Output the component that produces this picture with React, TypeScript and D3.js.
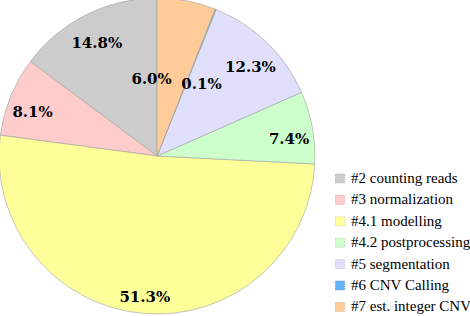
import { useEffect, useRef } from 'react'
import * as d3 from 'd3'

const LABELS = [
  '#2 counting reads',
  '#3 normalization',
  '#4.1 modelling',
  '#4.2 postprocessing',
  '#5 segmentation',
  '#6 CNV Calling',
  '#7 est. integer CNV',
]
const VALUES = [14.8, 8.1, 51.3, 7.4, 12.3, 0.1, 6.0]
const COLORS = ['#cccccc', '#ffcccc', '#ffff99', '#ccffcc', '#e0e0fc', '#66b3ff', '#ffcc99']

export default function App() {
  const svgRef = useRef<SVGSVGElement>(null)

  useEffect(() => {
    if (!svgRef.current) return
    const svg = d3.select(svgRef.current)
    svg.selectAll('*').remove()

    const width = 470
    const height = 316
    const cx = 157
    const cy = 156
    const R = 158

    svg.attr('width', width).attr('height', height)
    const g = svg.append('g').attr('transform', `translate(${cx},${cy})`)

    const data = LABELS.map((l, i) => ({ label: l, value: VALUES[i], color: COLORS[i] }))

    // counter-clockwise from 12 o'clock
    const pie = d3.pie<typeof data[number]>()
      .value(d => d.value)
      .sort(null)
      .startAngle(0)
      .endAngle(-2 * Math.PI)

    const arcs = pie(data)
    const arc = d3.arc<d3.PieArcDatum<typeof data[number]>>().innerRadius(0).outerRadius(R)

    g.selectAll('path.slice')
      .data(arcs)
      .join('path')
      .attr('class', 'slice')
      .attr('d', arc)
      .attr('fill', d => d.data.color)
      .attr('stroke', '#a0a0a0')
      .attr('stroke-width', 0.6)

    // labels: big slices near the rim (hanging from the point), small ones pulled in and pushed apart
    const outerLab = d3.arc<d3.PieArcDatum<typeof data[number]>>().innerRadius(R * 0.85).outerRadius(R * 0.85)
    const innerLab = d3.arc<d3.PieArcDatum<typeof data[number]>>().innerRadius(R * 0.5).outerRadius(R * 0.5)

    let smallCount = 0
    arcs.forEach(a => {
      const small = a.data.value < 7
      const [x, y] = small ? innerLab.centroid(a) : outerLab.centroid(a)
      let anchor = 'middle'
      let dx = 0
      let dy = 7
      if (small) {
        anchor = smallCount % 2 === 0 ? 'start' : 'end'
        dx = smallCount % 2 === 0 ? -5 : 0
        dy = 1
        smallCount++
      }
      g.append('text')
        .attr('x', x + dx)
        .attr('y', y + dy)
        .attr('text-anchor', anchor)
        .attr('dominant-baseline', 'central')
        .style('font-family', "'DejaVu Serif', serif")
        .attr('font-weight', 'bold')
        .attr('font-size', 15)
        .attr('fill', '#000')
        .text(a.data.value.toFixed(1) + '%')
    })

    // legend
    const leg = svg.append('g').attr('transform', 'translate(335,178)')
    const rowH = 21.4
    LABELS.forEach((l, i) => {
      const row = leg.append('g').attr('transform', `translate(0,${i * rowH})`)
      row.append('rect')
        .attr('x', 0.5)
        .attr('y', -4)
        .attr('width', 9)
        .attr('height', 9)
        .attr('fill', COLORS[i])
        .attr('stroke', d3.color(COLORS[i])!.darker(0.6).toString())
        .attr('stroke-width', 0.8)
        .attr('stroke-dasharray', '1,1')
      row.append('text')
        .attr('x', 16)
        .attr('y', 0)
        .attr('dominant-baseline', 'central')
        .style('font-family', "'Liberation Serif', serif")
        .attr('font-size', 15)
        .attr('fill', '#000')
        .text(l)
    })
  }, [])

  return (
    <div style={{ position: 'fixed', left: 0, top: 0, width: 470, height: 316, overflow: 'hidden', background: '#fff' }}>
      <svg ref={svgRef} style={{ display: 'block' }} />
    </div>
  )
}
